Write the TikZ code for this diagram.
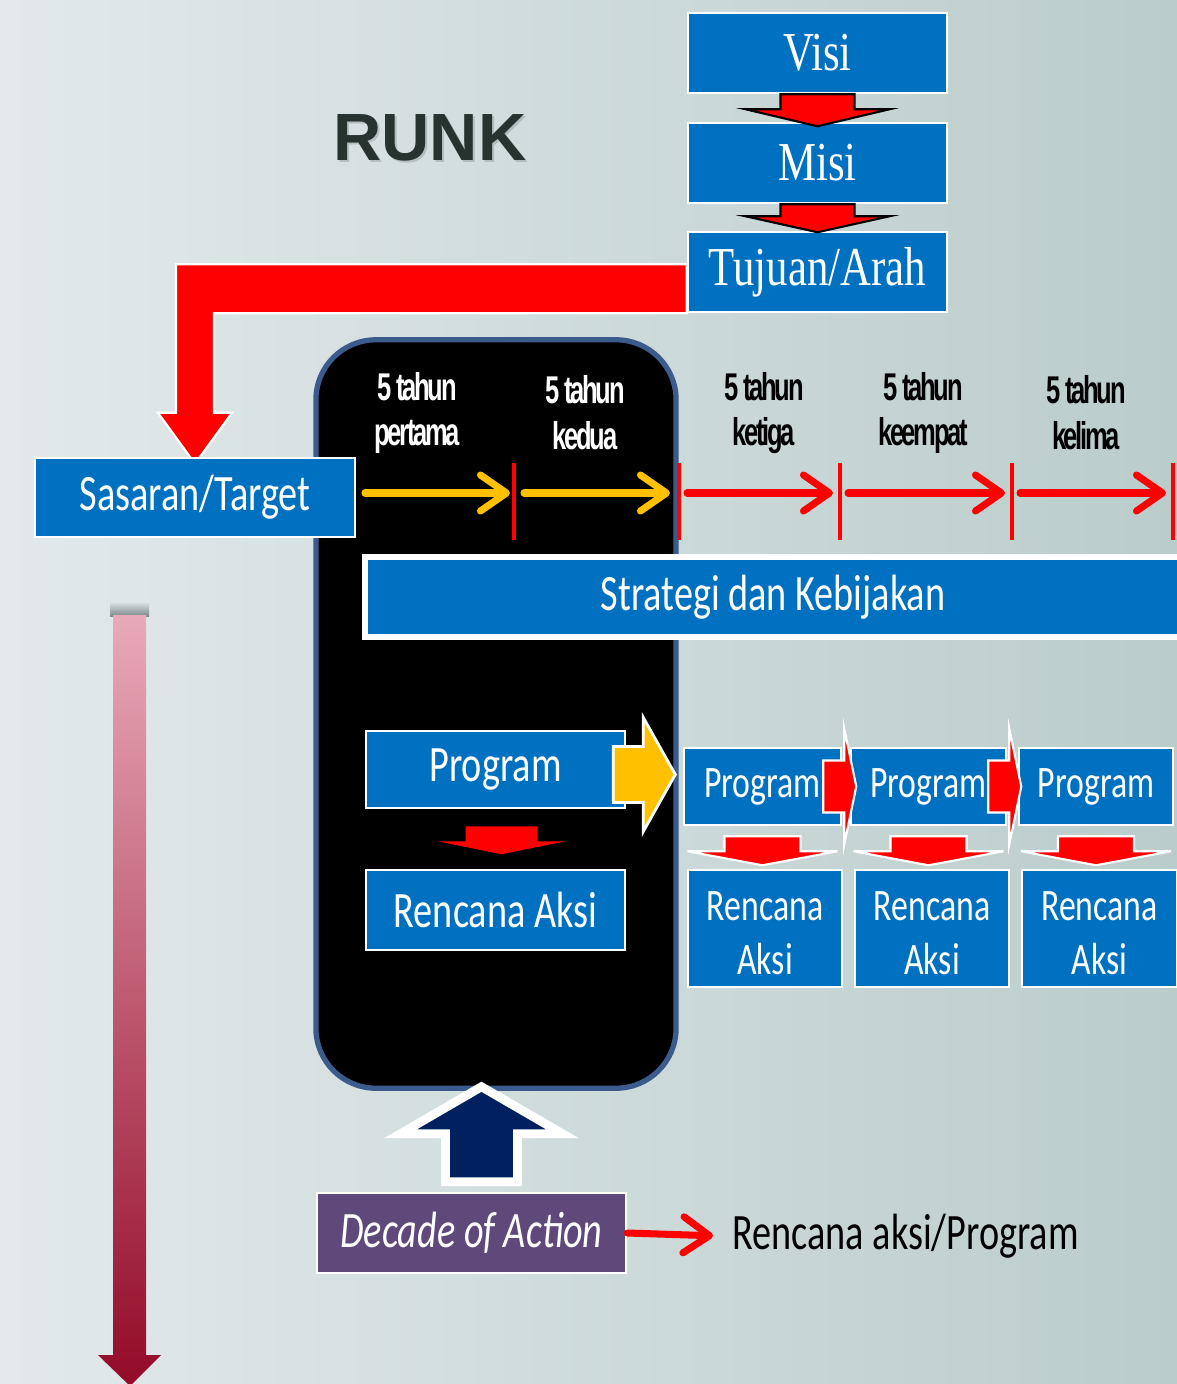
\documentclass[tikz,border=0pt]{standalone}
\usepackage{fontspec}
\usepackage{tikz}
\usetikzlibrary{calc,arrows.meta}
\newfontfamily\runkfont{Liberation Sans}
\newfontfamily\boxfont[FakeStretch=0.75]{Carlito}
\newfontfamily\visifont[FakeStretch=0.78]{Liberation Serif}
\newfontfamily\yearfont[FakeStretch=0.66,LetterSpace=-6]{Liberation Sans}
\definecolor{RKBlue}{HTML}{0070C0}
\definecolor{RKRed}{HTML}{FF0000}
\definecolor{RKGold}{HTML}{FFC000}
\definecolor{RKNavy}{HTML}{002060}
\definecolor{RKPurple}{HTML}{5F497A}
\definecolor{RKFrame}{HTML}{3B5B8C}
\definecolor{RKInk}{HTML}{27332F}
\definecolor{RKBgLeft}{HTML}{E3E9EB}
\definecolor{RKBgRight}{HTML}{BACDCB}
\definecolor{RKPink}{HTML}{E8AAB9}
\definecolor{RKCrimson}{HTML}{A30B2C}
\definecolor{RKShadow}{HTML}{7E8A8C}

\tikzset{
  bluebox/.style={draw=white, line width=0.7pt, fill=RKBlue, text=white, inner sep=0pt},
  serifbox/.style={bluebox, minimum width=2.59cm, minimum height=0.8cm,
    font=\visifont\fontsize{15.6}{18}\selectfont},
  sansbox/.style={bluebox, font=\boxfont\fontsize{14.5}{17}\selectfont},
  smallbox/.style={bluebox, align=center, font=\boxfont\fontsize{12.8}{15.6}\selectfont},
  yearlabel/.style={align=center, font=\yearfont\bfseries\fontsize{11}{13}\selectfont},
  yeartick/.style={RKRed, line width=1.1pt},
  timeline/.style={line width=2pt, line cap=round,
    -{Straight Barb[length=2.6mm,width=3.6mm,line cap=round,line join=round]}},
  periodframe/.style={draw=RKFrame, line width=1.5pt, fill=black, rounded corners=0.6cm,
    minimum width=3.6cm, minimum height=7.48cm},
  pics/blockdown/.style args={#1/#2/#3/#4}{code={
    \path[pic actions, line join=miter] (-#1,0) -- (#1,0) -- (#1,#2) -- (#3,#2) -- (0,#2+#4)
      -- (-#3,#2) -- (-#1,#2) -- cycle;}}
}

\begin{document}
\begin{tikzpicture}[x=0.01cm,y=-0.01cm]
\useasboundingbox (0,0) rectangle (1177,1384);
\clip (0,0) rectangle (1177,1384);
\shade[left color=RKBgLeft, right color=RKBgRight] (0,0) rectangle (1177,1384);

% long arrow on the left, with a soft shadow over its top
\shade[top color=RKBgLeft, bottom color=RKShadow] (110,601) rectangle (149,616);
\shade[top color=RKPink, middle color=RKCrimson, bottom color=RKCrimson!90!black]
  (113,615) -- (146,615) -- (146,1355) -- (161,1355) -- (130,1386) -- (98,1355) -- (113,1355) -- cycle;

\node[font=\runkfont\bfseries\fontsize{19}{22}\selectfont, text=black, opacity=0.15] at (432,140) {RUNK};
\node[font=\runkfont\bfseries\fontsize{19}{22}\selectfont, text=RKInk] (runk) at (430,138) {RUNK};

\node[serifbox] (visi) at (817.5,53) {Visi};
\node[serifbox] (misi) at (817.5,163) {Misi};
\node[serifbox] (tujuan) at (817.5,272) {Tujuan/Arah};
\pic[fill=RKRed, draw=black, line width=0.6pt] at (visi.south) {blockdown={37/15/72/17}};
\pic[fill=RKRed, draw=black, line width=0.6pt] at (misi.south) {blockdown={37/12/72/16}};

\node[sansbox, minimum width=3.2cm, minimum height=0.79cm] (sasaran) at (195,497.5) {};

\fill[RKRed, draw=white, line width=0.6pt, line join=miter]
  (tujuan.south west) -- ++(0,-49) -| ($(sasaran.north)+(-19,-44)$) -- ++(-18,0)
  -- ($(sasaran.north)+(0,7)$) -- ++(37,-51) -- ++(-18,0) |- (tujuan.south west) -- cycle;

\node[periodframe] (period) at (496,714) {};
\node[sansbox, minimum width=3.2cm, minimum height=0.79cm] at (sasaran) {Sasaran/Target};

\node[yearlabel, text=white] (y1) at (417,413) {5 tahun\\pertama};
\node[yearlabel, text=white] (y2) at (585,413) {5 tahun\\kedua};
\node[yearlabel] (y3) at (764,413) {5 tahun\\ketiga};
\node[yearlabel] (y4) at (923,413) {5 tahun\\keempat};
\node[yearlabel] (y5) at (1086,413) {5 tahun\\kelima};

\coordinate (tk0) at (365,493);
\foreach \n/\x in {1/514,2/679,3/840,4/1012,5/1173} {
  \coordinate (tk\n) at (\x,493);
  \draw[yeartick] ($(tk\n)+(0,-30)$) -- ($(tk\n)+(0,47)$);
}
\draw[timeline, RKGold] (tk0) -- ($(tk1)+(-4,0)$);
\draw[timeline, RKGold] ($(tk1)+(10,0)$) -- ($(tk2)+(-9,0)$);
\foreach \a/\b in {2/3,3/4,4/5}
  \draw[timeline, RKRed] ($(tk\a)+(8,0)$) -- ($(tk\b)+(-7,0)$);

\node[sansbox, line width=1.6pt, minimum width=8.16cm, minimum height=0.8cm] (strategi) at (773,597) {Strategi dan Kebijakan};

\node[sansbox, minimum width=2.59cm, minimum height=0.77cm] (prog) at (495.5,769.5) {Program};
\node[sansbox, minimum width=2.59cm, minimum height=0.8cm] (aksi) at (495.5,910) {Rencana Aksi};
\pic[fill=RKRed] at ($(prog.south)+(6,17)$) {blockdown={36/15/64/13}};
\pic[fill=RKGold, draw=white, line width=0.8pt, rotate=90] at ($(prog.east)+(-13,5)$) {blockdown={28/30/57/32}};

\node[smallbox, minimum width=1.57cm, minimum height=0.77cm] (prg1) at (762.5,786.5) {Program};
\node[smallbox, minimum width=1.55cm, minimum height=0.77cm] (prg2) at (928.5,786.5) {Program};
\node[smallbox, minimum width=1.54cm, minimum height=0.77cm] (prg3) at (1096,786.5) {Program};
\node[smallbox, minimum width=1.54cm, minimum height=1.17cm] (rak1) at (765,928.5) {\strut Rencana\\Aksi};
\node[smallbox, minimum width=1.54cm, minimum height=1.17cm] (rak2) at (932,928.5) {\strut Rencana\\Aksi};
\node[smallbox, minimum width=1.55cm, minimum height=1.17cm] (rak3) at (1099.5,928.5) {\strut Rencana\\Aksi};
\foreach \i in {1,2,3}
  \pic[fill=RKRed, draw=white, line width=0.6pt] at ($(prg\i.south)+(0,10)$) {blockdown={38/15/75/14}};
\foreach \i in {1,2}
  \pic[fill=RKRed, draw=white, line width=0.6pt, rotate=90] at ($(prg\i.east)+(-19,0)$) {blockdown={26/21/58/12}};

\node[bluebox, fill=RKPurple, minimum width=3.09cm, minimum height=0.8cm,
  font=\boxfont\itshape\fontsize{14.5}{17}\selectfont] (decade) at (471.5,1233) {Decade of Action};
\pic[fill=RKNavy, draw=white, line width=2.5pt, rotate=180] at ($(decade.north)+(10,-10)$) {blockdown={36/48/81/47}};
\node[anchor=west, font=\boxfont\fontsize{14.5}{17}\selectfont] (rap) at (720,1236) {Rencana aksi/Program};
\draw[timeline, RKRed, shorten >=0.07cm] (decade.east) -- (rap.west);
\end{tikzpicture}
\end{document}
